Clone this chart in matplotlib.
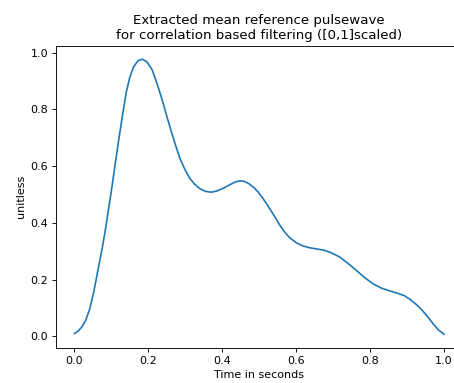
import matplotlib
matplotlib.use("Agg")
import matplotlib.pyplot as plt

time_s = [0.000, 0.010, 0.020, 0.030, 0.041, 0.052, 0.066, 0.075, 0.084, 0.093,
          0.102, 0.111, 0.120, 0.130, 0.140, 0.150, 0.160, 0.172, 0.184, 0.196,
          0.210, 0.223, 0.237, 0.250, 0.262, 0.274, 0.286, 0.300, 0.313, 0.326,
          0.340, 0.355, 0.370, 0.385, 0.403, 0.420, 0.435, 0.448, 0.460, 0.472,
          0.484, 0.496, 0.508, 0.520, 0.538, 0.556, 0.570, 0.583, 0.600, 0.619,
          0.637, 0.655, 0.673, 0.690, 0.705, 0.718, 0.740, 0.763, 0.785, 0.808,
          0.830, 0.853, 0.873, 0.893, 0.910, 0.925, 0.940, 0.955, 0.970, 0.985,
          1.000]
amplitude = [0.010, 0.018, 0.033, 0.055, 0.095, 0.155, 0.250, 0.310, 0.379, 0.455,
             0.532, 0.615, 0.695, 0.780, 0.860, 0.915, 0.950, 0.972, 0.977, 0.968,
             0.940, 0.893, 0.835, 0.775, 0.722, 0.672, 0.625, 0.585, 0.555, 0.535,
             0.520, 0.511, 0.508, 0.512, 0.522, 0.534, 0.544, 0.548, 0.546, 0.538,
             0.526, 0.510, 0.490, 0.467, 0.430, 0.391, 0.365, 0.347, 0.330, 0.318,
             0.312, 0.308, 0.304, 0.297, 0.288, 0.279, 0.257, 0.232, 0.207, 0.185,
             0.170, 0.160, 0.152, 0.143, 0.128, 0.112, 0.093, 0.070, 0.045, 0.022,
             0.007]

DPI = 80
fig = plt.figure(figsize=(454 / DPI, 383 / DPI), dpi=DPI)
ax = fig.add_axes([56 / 454, 35 / 383, 406.5 / 454, 302.5 / 383])
ax.plot(time_s, amplitude, color="tab:blue", linewidth=1.5)
ax.spines["right"].set_visible(False)
ax.set_title("Extracted mean reference pulsewave\nfor correlation based filtering ([0,1]scaled)")
ax.set_xlabel("Time in seconds")
ax.set_ylabel("unitless")
fig.savefig("out.png", dpi=DPI)
